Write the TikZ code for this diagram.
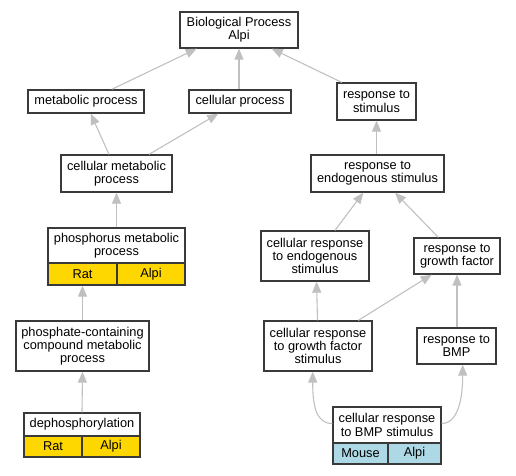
\documentclass[tikz,border=0pt]{standalone}
\usepackage{fontspec}
\setmainfont{Liberation Sans}
\usetikzlibrary{arrows.meta}
\definecolor{edgegray}{HTML}{C0C0C0}
\definecolor{boxline}{HTML}{3A3A3A}
\definecolor{gold}{HTML}{FFD700}
\definecolor{lblue}{HTML}{ADD8E6}
\tikzset{
  x=1pt, y=-1pt,
  term/.style={draw=boxline, line width=1.3pt, fill=white, inner sep=0pt, align=center,
    font=\fontsize{12.8}{13.3}\selectfont},
  cellg/.style={term, fill=gold},
  cellb/.style={term, fill=lblue},
  isa/.style={draw=edgegray, line width=1.1pt, -{Triangle[length=11pt,width=9pt]}, color=edgegray},
}
\begin{document}
\begin{tikzpicture}
\useasboundingbox (0,0) rectangle (516,475);
% nodes
\node[term, minimum width=118pt, minimum height=36pt] (bp) at (239,30) {Biological Process\\Alpi};
\node[term, minimum width=116pt, minimum height=23pt] (meta) at (86,101.5) {metabolic process};
\node[term, minimum width=102pt, minimum height=23pt] (cell) at (240,101.5) {cellular process};
\node[term, minimum width=79pt, minimum height=37pt] (rstim) at (376.5,101.5) {response to\\stimulus};
\node[term, minimum width=111pt, minimum height=37pt] (cmeta) at (116.5,173.5) {cellular metabolic\\process};
\node[term, minimum width=133pt, minimum height=37pt] (rendo) at (377.5,173.5) {response to\\endogenous stimulus};
\node[term, minimum width=137pt, minimum height=35pt] (phos) at (116.5,245.5) {phosphorus metabolic\\process};
\node[cellg, minimum width=69pt, minimum height=22pt] (phosRat) at (82.5,274) {Rat};
\node[cellg, minimum width=68pt, minimum height=22pt] (phosAlpi) at (151,274) {Alpi};
\node[term, minimum width=108pt, minimum height=50pt] (crendo) at (315,256) {cellular response\\to endogenous\\stimulus};
\node[term, minimum width=86pt, minimum height=36pt] (rgf) at (457,256) {response to\\growth factor};
\node[term, minimum width=133pt, minimum height=50pt] (phate) at (82.5,346) {phosphate-containing\\compound metabolic\\process};
\node[term, minimum width=108pt, minimum height=50pt] (crgf) at (318,346) {cellular response\\to growth factor\\stimulus};
\node[term, minimum width=79pt, minimum height=36pt] (rbmp) at (456.5,346) {response to\\BMP};
\node[term, minimum width=116pt, minimum height=23pt] (deph) at (82,424.5) {dephosphorylation};
\node[cellg, minimum width=58pt, minimum height=21pt] (dephRat) at (53,446.5) {Rat};
\node[cellg, minimum width=58pt, minimum height=21pt] (dephAlpi) at (111,446.5) {Alpi};
\node[term, minimum width=108pt, minimum height=36pt] (crbmp) at (387,425) {cellular response\\to BMP stimulus};
\node[cellb, minimum width=55pt, minimum height=21pt] (crbmpMouse) at (360.5,453.5) {Mouse};
\node[cellb, minimum width=53pt, minimum height=21pt] (crbmpAlpi) at (414.5,453.5) {Alpi};
% edges
\draw[isa] ([xshift=25.7pt]meta.north) -- ([xshift=-42.3pt]bp.south);
\draw[isa] (bp.south |- cell.north) -- (bp.south);
\draw[isa] ([xshift=-34.8pt]rstim.north) -- ([xshift=32.7pt]bp.south);
\draw[isa] ([xshift=-7.5pt]cmeta.north) -- ([xshift=4.7pt]meta.south);
\draw[isa] ([xshift=32.5pt]cmeta.north) -- ([xshift=-21.7pt]cell.south);
\draw[isa] (rstim.south |- rendo.north) -- (rstim.south);
\draw[isa] (phos.north) -- (cmeta.south);
\draw[isa] ([xshift=20pt]crendo.north) -- ([xshift=-14.2pt]rendo.south);
\draw[isa] ([xshift=-18.7pt]rgf.north) -- ([xshift=17.5pt]rendo.south);
\draw[isa] (phate.north) -- (phosRat.south);
\draw[isa] ([xshift=-0.5pt]crgf.north) -- ([xshift=1.5pt]crendo.south);
\draw[isa] ([xshift=40.3pt]crgf.north) -- ([xshift=-25.3pt]rgf.south);
\draw[isa] (rgf.south |- rbmp.north) -- (rgf.south);
\draw[isa] (deph.north) -- (phate.south);
\draw[isa] ([yshift=1.5pt]crbmp.west) .. controls +(-16,0) and +(0,35) .. ([xshift=-5.3pt]crgf.south);
\draw[isa] ([yshift=1.5pt]crbmp.east) .. controls +(16,0) and +(0,35) .. ([xshift=6.2pt]rbmp.south);
\end{tikzpicture}
\end{document}
